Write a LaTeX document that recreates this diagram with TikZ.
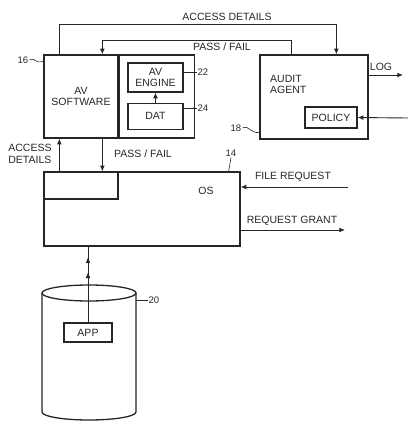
\documentclass[tikz,border=0pt]{standalone}
\usepackage{fontspec}
\setmainfont{Liberation Sans}
\usetikzlibrary{arrows.meta,positioning,decorations.markings}
\definecolor{ink}{HTML}{262626}

\begin{document}
\begin{tikzpicture}[x=1pt,y=1pt,
  font=\fontsize{10.5}{11.5}\selectfont, draw=ink, text=ink,
  box/.style={draw,line width=1.3pt,inner sep=1pt,align=center},
  arr/.style={-{Latex[length=2mm,width=1.7mm]},line width=0.9pt},
  lead/.style={line width=0.6pt},
  num/.style={font=\fontsize{9.5}{11}\selectfont,inner sep=1pt}]
\useasboundingbox (0,0) rectangle (408,-424);
% av software block
\node[box,minimum width=74pt,minimum height=83pt] (avsw) at (81,-96.5) {AV\\SOFTWARE};
\node[box,minimum width=75pt,minimum height=83pt,right=0pt of avsw] (avin) {};
\node[box,minimum width=55pt,minimum height=29pt] (eng) at (155.5,-77.5) {AV\\ENGINE};
\node[box,minimum width=55pt,minimum height=26pt,below=10pt of eng] (dat) {DAT};
\draw[arr] (dat) -- (eng);
% audit agent
\node[box,minimum width=108pt,minimum height=84pt] (aud) at (314,-97) {};
\node[align=left,anchor=north west,inner sep=0pt] (audtxt) at (270,-75) {AUDIT\\AGENT};
\node[box,minimum width=52pt,minimum height=21pt] (pol) at (331,-117.5) {POLICY};
% os
\node[box,minimum width=196pt,minimum height=74pt] (os) at (142,-209) {};
\node[box,minimum width=74pt,minimum height=27pt,anchor=north west] (osin) at (os.north west) {};
\node (ostxt) at (206,-191) {OS};
% disk with app
\draw[line width=1.3pt] (42,-293) -- (42,-412) arc[start angle=180,end angle=360,x radius=47,y radius=8] -- (136,-293);
\draw[line width=1.3pt] (89,-293) ellipse[x radius=47,y radius=8];
\coordinate (disk) at (136,-300);
\node[box,minimum width=48pt,minimum height=19pt] (app) at (88,-332.5) {APP};
\draw[line width=0.9pt,postaction={decorate},decoration={markings,
  mark=at position 0.66 with {\arrow{Latex[length=2mm,width=1.7mm]}},
  mark=at position 0.86 with {\arrow{Latex[length=2mm,width=1.7mm]}}}]
  (app.north) -- (app.north |- os.south);
% flows between blocks
\draw[arr] ([xshift=16pt]avsw.north west) -- ++(0,30) -| ([xshift=77pt]aud.north west);
\node (accup) at (227,-17) {ACCESS DETAILS};
\draw[arr] ([xshift=32pt]aud.north west) -- ++(0,14) -| ([xshift=59pt]avsw.north west);
\node (passup) at (222,-47) {PASS / FAIL};
\draw[arr] ([xshift=16pt]os.north west) -- ([xshift=16pt]avsw.south west);
\draw[arr] ([xshift=59pt]avsw.south west) -- ([xshift=59pt]os.north west);
\node[align=left] (accdn) at (30,-154) {ACCESS\\DETAILS};
\node (passdn) at (143,-154) {PASS / FAIL};
% outside signals
\coordinate (logend) at (403,-75);
\draw[arr] (aud.east |- logend) -- (logend);
\node (log) at (381,-67) {LOG};
\coordinate (polsrc) at (408,-118);
\draw[arr] (polsrc) -- (pol.east);
\coordinate (freq) at (348,-187);
\draw[arr] (freq) -- (os.east |- freq);
\node (freqtxt) at (293,-177) {FILE REQUEST};
\coordinate (rgrant) at (345,-230);
\draw[arr] (os.east |- rgrant) -- (rgrant);
\node (granttxt) at (292,-221) {REQUEST GRANT};
% reference numerals
\node[num] (n16) at (23,-60) {16};
\draw[lead] (n16.east) .. controls (36,-57) and (34,-64) .. ([yshift=-7pt]avsw.north west);
\node[num] (n22) at (203,-72) {22};
\draw[lead] (eng.east |- n22) -- (n22.west);
\node[num] (n24) at (203,-108) {24};
\draw[lead] (dat.east |- n24) -- (n24.west);
\node[num] (n18) at (236,-128) {18};
\draw[lead] (n18.east) .. controls (250,-125) and (249,-133) .. ([yshift=7pt]aud.south west);
\node[num] (n14) at (231,-153) {14};
\draw[lead] (n14.south) -- ([xshift=-12pt]os.north east);
\node[num] (n20) at (154,-300) {20};
\draw[lead] (disk) -- (n20.west);
\end{tikzpicture}
\end{document}
